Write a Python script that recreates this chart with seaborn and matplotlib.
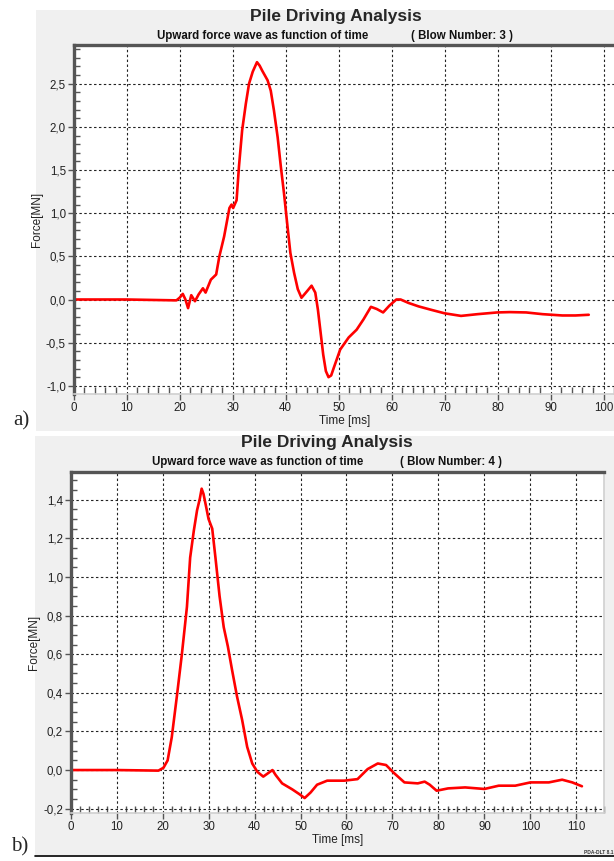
import numpy as np
import pandas as pd
import seaborn as sns
import matplotlib
matplotlib.use("Agg")
import matplotlib.pyplot as plt
from matplotlib.patches import Rectangle
from matplotlib.lines import Line2D
from matplotlib.ticker import MultipleLocator, FuncFormatter

# Daten Schlag 3 (oben)
zeit_3 = [0, 10, 19.4, 20.0, 20.6, 21.1, 21.6, 22.2, 22.9, 23.6, 24.4, 24.9, 25.9, 26.9,
          27.5, 28.4, 29.4, 29.8, 30.1, 30.75, 31.2, 31.8, 32.5, 33.1, 33.8, 34.6, 35.1,
          35.6, 36.6, 37.2, 37.8, 38.5, 39.1, 39.7, 40.3, 40.9, 41.6, 42.3, 43.0, 44.1,
          44.9, 45.6, 46.1, 46.6, 47.1, 47.6, 48.1, 48.6, 49.1, 50.3, 51.9, 53.4, 54.7,
          56.1, 57.2, 58.4, 59.6, 60.9, 61.7, 63.2, 65.1, 67.5, 70.0, 73.1, 76.2, 79.9,
          82.3, 85.4, 88.5, 92.2, 94.7, 97.2]
kraft_3 = [0.0, 0.0, -0.01, 0.02, 0.065, 0.0, -0.10, 0.05, -0.02, 0.06, 0.13, 0.08, 0.23, 0.29,
           0.5, 0.73, 1.06, 1.10, 1.06, 1.15, 1.54, 1.96, 2.27, 2.50, 2.64, 2.75, 2.71,
           2.65, 2.54, 2.42, 2.19, 1.88, 1.54, 1.23, 0.88, 0.54, 0.31, 0.12, 0.02, 0.10,
           0.16, 0.08, -0.12, -0.38, -0.64, -0.83, -0.90, -0.88, -0.79, -0.58, -0.44, -0.35, -0.23,
           -0.085, -0.11, -0.15, -0.07, 0.0, 0.0, -0.04, -0.08, -0.12, -0.16, -0.19, -0.17, -0.15,
           -0.146, -0.15, -0.17, -0.185, -0.185, -0.177]

# Daten Schlag 4 (unten)
zeit_4 = [0, 10, 19.1, 20.2, 21.1, 22.0, 23.1, 24.2, 25.3, 26.0, 26.8, 27.5, 28.1, 28.5,
          28.9, 29.5, 30.0, 30.8, 31.5, 32.4, 33.3, 34.2, 35.1, 36.2, 37.3, 38.4, 39.5,
          40.6, 41.9, 42.9, 43.9, 44.6, 46.0, 48.2, 49.7, 50.9, 52.2, 53.6, 55.8, 59.5,
          62.4, 64.6, 66.8, 68.6, 70.4, 72.6, 75.5, 77.0, 78.1, 79.6, 82.1, 85.8, 90.0,
          93.1, 96.7, 100.0, 104.0, 106.9, 109.1, 111.2]
kraft_4 = [0.0, 0.0, -0.003, 0.012, 0.05, 0.17, 0.38, 0.60, 0.845, 1.10, 1.24, 1.345, 1.405, 1.457,
           1.43, 1.36, 1.30, 1.25, 1.10, 0.90, 0.74, 0.64, 0.52, 0.38, 0.26, 0.12, 0.034,
           -0.009, -0.034, -0.017, 0.0, -0.026, -0.069, -0.10, -0.124, -0.145, -0.116, -0.076, -0.055, -0.055,
           -0.047, 0.005, 0.034, 0.026, -0.017, -0.064, -0.069, -0.06, -0.076, -0.107, -0.095, -0.09, -0.098,
           -0.081, -0.081, -0.064, -0.064, -0.05, -0.064, -0.084]

df3 = pd.DataFrame({"Zeit": zeit_3, "Kraft": kraft_3})
df4 = pd.DataFrame({"Zeit": zeit_4, "Kraft": kraft_4})

sns.set_style("white")
plt.rcParams["font.family"] = ["Liberation Sans Narrow", "Liberation Sans", "DejaVu Sans"]

W, H = 614, 861
fig = plt.figure(figsize=(W / 100, H / 100), dpi=100)

# graue Hintergrundflaechen
fig.patches.append(Rectangle((36 / W, 1 - 431 / H), 1, 421 / H, transform=fig.transFigure,
                             facecolor="#f0f0f0", edgecolor="none", zorder=-10))
fig.patches.append(Rectangle((35 / W, 1 - 855 / H), 1, 419 / H, transform=fig.transFigure,
                             facecolor="#f0f0f0", edgecolor="none", zorder=-10))
fig.lines.append(Line2D([35 / W, 1], [1 - 855.5 / H, 1 - 855.5 / H], transform=fig.transFigure,
                        color="black", lw=1.2))


def komma(v, p):
    s = f"{v:.1f}".replace(".", ",")
    return "0,0" if s == "-0,0" else s


def achse_stylen(ax, y_major, y_minor):
    ax.set_facecolor("white")
    ax.xaxis.set_major_locator(MultipleLocator(10))
    ax.xaxis.set_minor_locator(MultipleLocator(2))
    ax.yaxis.set_major_locator(MultipleLocator(y_major))
    ax.yaxis.set_minor_locator(MultipleLocator(y_minor))
    ax.yaxis.set_major_formatter(FuncFormatter(komma))
    ax.grid(True, which="major", color="#222222", linestyle=(0, (2.2, 2.2)), lw=0.8)
    ax.tick_params(axis="both", which="major", direction="out", length=4, width=1,
                   color="#555555", labelsize=8.3, labelcolor="#222222", pad=1.5)
    ax.tick_params(axis="y", which="minor", direction="in", length=4, width=1,
                   color="#555555", left=True)
    ax.tick_params(axis="x", which="minor", direction="in", length=5, width=1,
                   color="#555555", bottom=True)
    ax.tick_params(axis="x", which="major", bottom=True)
    ax.tick_params(axis="y", which="major", left=True)
    for s in ["left", "top"]:
        ax.spines[s].set_color("#555555")
        ax.spines[s].set_linewidth(2.4)
    for s in ["bottom", "right"]:
        ax.spines[s].set_color("#d0d0d0")
        ax.spines[s].set_linewidth(1.2)
    ax.set_xlabel("Time [ms]", fontsize=8.5, color="#222222", labelpad=1)
    ax.set_ylabel("Force[MN]", fontsize=8.5, color="#222222", labelpad=2)


# oben: Schlag 3
ax1 = fig.add_axes([73.6 / W, 1 - 394 / H, 542.4 / W, 349 / H])
sns.lineplot(data=df3, x="Zeit", y="Kraft", ax=ax1, color="red", lw=1.9, estimator=None)
ax1.set_xlim(0, 542.4 / 5.30)
ax1.set_ylim(-1.095, 2.949)
achse_stylen(ax1, 0.5, 0.1)

# unten: Schlag 4
ax2 = fig.add_axes([70.6 / W, 1 - 813.3 / H, 533.4 / W, 341.6 / H])
sns.lineplot(data=df4, x="Zeit", y="Kraft", ax=ax2, color="red", lw=1.9, estimator=None)
ax2.set_xlim(0, 116)
ax2.set_ylim(-0.224, 1.545)
achse_stylen(ax2, 0.2, 0.05)

# Titel
fig.text(336 / W, 1 - 17 / H, "Pile Driving Analysis", ha="center", va="center",
         fontsize=12.5, fontweight="bold")
fig.text(157 / W, 1 - 36 / H, "Upward force wave as function of time", ha="left", va="center",
         fontsize=8.3, fontweight="bold", color="#111111")
fig.text(411 / W, 1 - 36 / H, "( Blow Number: 3 )", ha="left", va="center",
         fontsize=8.3, fontweight="bold", color="#111111")

fig.text(327 / W, 1 - 442 / H, "Pile Driving Analysis", ha="center", va="center",
         fontsize=12.5, fontweight="bold")
fig.text(152 / W, 1 - 462 / H, "Upward force wave as function of time", ha="left", va="center",
         fontsize=8.3, fontweight="bold", color="#111111")
fig.text(400 / W, 1 - 462 / H, "( Blow Number: 4 )", ha="left", va="center",
         fontsize=8.3, fontweight="bold", color="#111111")

fig.text(613 / W, 1 - 852 / H, "PDA-DLT 8.1", ha="right", va="center", fontsize=3.5,
         fontweight="bold", color="#333333")

# a) und b)
fig.text(13 / W, 1 - 421 / H, "a)", ha="left", va="center", fontsize=15,
         family=["Liberation Serif", "DejaVu Serif"])
fig.text(11 / W, 1 - 847 / H, "b)", ha="left", va="center", fontsize=15,
         family=["Liberation Serif", "DejaVu Serif"])

fig.savefig("out.png", dpi=100)
